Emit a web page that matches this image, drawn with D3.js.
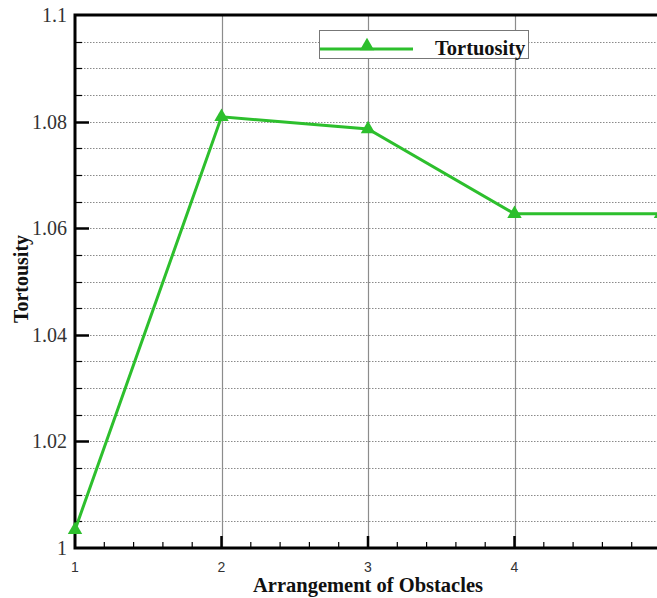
<!DOCTYPE html>
<html>
<head>
<meta charset="utf-8">
<script src="https://cdn.jsdelivr.net/npm/d3@7"></script>
<style>
  body { margin: 0; background: #fff; }
  svg { display: block; }
</style>
</head>
<body>
<div id="chart"></div>
<script>
// data
var arrangements = [1, 2, 3, 4, 5];
var tortuosity = [1.0034, 1.0809, 1.0786, 1.0627, 1.0627];
var yTicks = [1, 1.02, 1.04, 1.06, 1.08, 1.1];
var yTickLabels = ["1", "1.02", "1.04", "1.06", "1.08", "1.1"];
var xTicks = [1, 2, 3, 4, 5];
var seriesName = "Tortuosity";

var width = 657, height = 598;
var plotL = 75, plotT = 15, plotB = 548, plotR = 661;

var x = d3.scaleLinear().domain([1, 5]).range([plotL, plotR]);
var y = d3.scaleLinear().domain([1, 1.1]).range([plotB, plotT]);

var svg = d3.select("#chart").append("svg")
    .attr("width", width)
    .attr("height", height);

var green = "#2dbf2d";
var serif = "'Liberation Serif', 'Times New Roman', serif";

function isMajorY(d){ return yTicks.some(function(t){ return Math.abs(t - d) < 1e-6; }); }

// dotted horizontal grid, every 0.005
var minorY = d3.range(1, 1.1001, 0.005).map(function(d){ return +d.toFixed(3); })
    .filter(function(d){ return d > 1 && d < 1.1; });
svg.append("g").selectAll("line")
    .data(minorY)
    .enter().append("line")
    .attr("x1", plotL).attr("x2", plotR)
    .attr("y1", function(d){ return Math.round(y(d)) + 0.5; })
    .attr("y2", function(d){ return Math.round(y(d)) + 0.5; })
    .attr("stroke", "#8a8a8a")
    .attr("stroke-width", 1)
    .attr("stroke-dasharray", "1.5,1.5");

// vertical grid at whole x
svg.append("g").selectAll("line")
    .data(xTicks.filter(function(d){ return d > 1; }))
    .enter().append("line")
    .attr("x1", function(d){ return Math.round(x(d)) + 0.5; })
    .attr("x2", function(d){ return Math.round(x(d)) + 0.5; })
    .attr("y1", plotT).attr("y2", plotB)
    .attr("stroke", "#8c8c8c")
    .attr("stroke-width", 1.2);

// left axis ticks (inward)
svg.append("g").selectAll("line")
    .data(minorY)
    .enter().append("line")
    .attr("x1", plotL)
    .attr("x2", function(d){ return isMajorY(d) ? plotL + 14 : plotL + 7; })
    .attr("y1", function(d){ return Math.round(y(d)) + 0.5; })
    .attr("y2", function(d){ return Math.round(y(d)) + 0.5; })
    .attr("stroke", "#000")
    .attr("stroke-width", function(d){ return isMajorY(d) ? 2.5 : 1.2; });

// bottom axis ticks (inward)
var minorX = d3.range(1, 5.0001, 0.2).map(function(d){ return +d.toFixed(1); })
    .filter(function(d){ return d > 1; });
svg.append("g").selectAll("line")
    .data(minorX)
    .enter().append("line")
    .attr("x1", function(d){ return x(d); })
    .attr("x2", function(d){ return x(d); })
    .attr("y1", plotB)
    .attr("y2", function(d){ return Number.isInteger(d) ? plotB - 12 : plotB - 6; })
    .attr("stroke", "#000")
    .attr("stroke-width", function(d){ return Number.isInteger(d) ? 2.5 : 1.2; });

// frame
svg.append("rect")
    .attr("x", plotL).attr("y", plotT)
    .attr("width", plotR - plotL).attr("height", plotB - plotT)
    .attr("fill", "none")
    .attr("stroke", "#000")
    .attr("stroke-width", 3);

// y tick labels
svg.append("g").selectAll("text")
    .data(yTicks)
    .enter().append("text")
    .attr("x", plotL - 8)
    .attr("y", function(d){ return y(d) + 7; })
    .attr("text-anchor", "end")
    .style("font-family", serif)
    .style("font-size", "20px")
    .attr("fill", "#333")
    .text(function(d, i){ return yTickLabels[i]; });

// x tick labels
svg.append("g").selectAll("text")
    .data(xTicks)
    .enter().append("text")
    .attr("x", function(d){ return x(d); })
    .attr("y", 572)
    .attr("text-anchor", "middle")
    .style("font-family", "'Liberation Sans', Arial, sans-serif")
    .style("font-size", "14px")
    .attr("fill", "#333")
    .text(function(d){ return d; });

// axis titles
svg.append("text")
    .attr("x", 368)
    .attr("y", 592)
    .attr("text-anchor", "middle")
    .style("font-family", serif)
    .style("font-weight", "bold")
    .style("font-size", "20.5px")
    .attr("fill", "#111")
    .text("Arrangement of Obstacles");

svg.append("text")
    .attr("transform", "translate(28,279) rotate(-90)")
    .attr("text-anchor", "middle")
    .style("font-family", serif)
    .style("font-weight", "bold")
    .style("font-size", "20px")
    .attr("fill", "#111")
    .text("Tortousity");

// series
var line = d3.line()
    .x(function(d, i){ return x(arrangements[i]); })
    .y(function(d){ return y(d); });

svg.append("path")
    .datum(tortuosity)
    .attr("d", line)
    .attr("fill", "none")
    .attr("stroke", green)
    .attr("stroke-width", 3);

var tri = d3.symbol().type(d3.symbolTriangle).size(90);
svg.append("g").selectAll("path")
    .data(tortuosity)
    .enter().append("path")
    .attr("d", tri)
    .attr("transform", function(d, i){ return "translate(" + x(arrangements[i]) + "," + y(d) + ")"; })
    .attr("fill", green);

// legend
var legend = svg.append("g");
legend.append("rect")
    .attr("x", 319.5).attr("y", 30.5)
    .attr("width", 209).attr("height", 28)
    .attr("fill", "#fff")
    .attr("stroke", "#777")
    .attr("stroke-width", 1);
legend.append("line")
    .attr("x1", 320).attr("x2", 413)
    .attr("y1", 49).attr("y2", 49)
    .attr("stroke", green)
    .attr("stroke-width", 3);
legend.append("path")
    .attr("d", tri)
    .attr("transform", "translate(367,46)")
    .attr("fill", green);
legend.append("text")
    .attr("x", 435)
    .attr("y", 55)
    .style("font-family", serif)
    .style("font-weight", "bold")
    .style("font-size", "20.5px")
    .attr("fill", "#111")
    .text(seriesName);
</script>
</body>
</html>
